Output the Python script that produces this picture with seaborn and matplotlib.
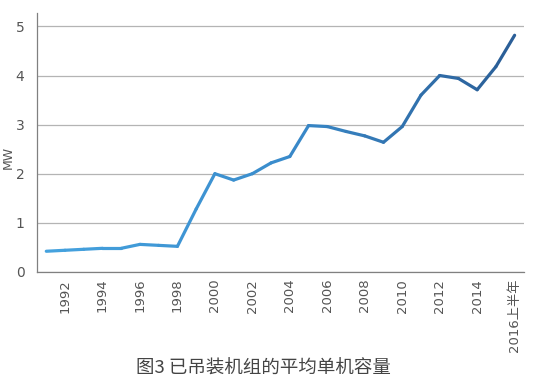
import pandas as pd
import numpy as np
import matplotlib
matplotlib.use('Agg')
import matplotlib.pyplot as plt
import seaborn as sns

years = ['1991', '1992', '1993', '1994', '1995', '1996', '1997', '1998', '1999',
         '2000', '2001', '2002', '2003', '2004', '2005', '2006', '2007', '2008',
         '2009', '2010', '2011', '2012', '2013', '2014', '2015', '2016上半年']
capacity = [0.42, 0.44, 0.46, 0.48, 0.48, 0.56, 0.54, 0.52, 1.28,
            2.0, 1.87, 2.0, 2.22, 2.35, 2.98, 2.96, 2.86, 2.77,
            2.64, 2.96, 3.6, 4.0, 3.94, 3.71, 4.18, 4.82]
tick_labels = ['1992', '1994', '1996', '1998', '2000', '2002', '2004',
               '2006', '2008', '2010', '2012', '2014', '2016上半年']

sns.set_style('white')
plt.rcParams['font.family'] = ['Noto Sans CJK SC', 'DejaVu Sans']

# one short segment per year pair so the line can fade from light to dark blue
rows = []
for i in range(len(years) - 1):
    rows.append({'x': i, 'y': capacity[i], 'seg': i})
    rows.append({'x': i + 1, 'y': capacity[i + 1], 'seg': i})
df = pd.DataFrame(rows)
pal = sns.blend_palette(['#45a2de', '#3a8ccc', '#2b5f98'], n_colors=len(years) - 1)

fig = plt.figure(figsize=(5.43, 3.84), dpi=100)
ax = fig.add_axes([0.068, 0.292, 0.897, 0.675])
sns.lineplot(data=df, x='x', y='y', hue='seg', palette=pal, legend=False,
             linewidth=2.3, ax=ax, solid_capstyle='round')

ax.set_xlim(-0.5, len(years) - 0.5)
ax.set_ylim(0, 5.28)
ax.set_yticks([0, 1, 2, 3, 4, 5])
ax.yaxis.grid(True, color='#b4b4b4', linewidth=0.9)
ax.set_axisbelow(True)

# ticks on category boundaries, labels on every other year
ax.set_xticks(np.arange(0.5, len(years) - 1, 1.0))
ax.set_xticklabels([])
ax.tick_params(axis='x', which='major', length=3, width=0.8, color='#808080', direction='inout')
pos = [years.index(t) for t in tick_labels]
ax.set_xticks(pos, minor=True)
ax.set_xticklabels(tick_labels, minor=True, rotation=90, fontsize=9.5, color='#555555',
                   family=['DejaVu Sans', 'Noto Sans CJK SC'])
ax.tick_params(axis='x', which='minor', length=0, pad=5)
ax.tick_params(axis='y', length=0, labelsize=10, labelcolor='#555555', pad=9)
for lab in ax.get_yticklabels():
    lab.set_family(['DejaVu Sans'])

for s in ['top', 'right']:
    ax.spines[s].set_visible(False)
for s in ['left', 'bottom']:
    ax.spines[s].set_color('#808080')
    ax.spines[s].set_linewidth(0.9)

ax.set_xlabel('')
ax.set_ylabel('MW', fontsize=9, color='#555555', family=['DejaVu Sans'])
ax.yaxis.set_label_coords(-0.046, 0.44)

fig.text(0.486, 0.039, '图3 已吊装机组的平均单机容量', ha='center', va='center',
         fontsize=13.3, color='#444444')

fig.savefig('out.png', dpi=100)
